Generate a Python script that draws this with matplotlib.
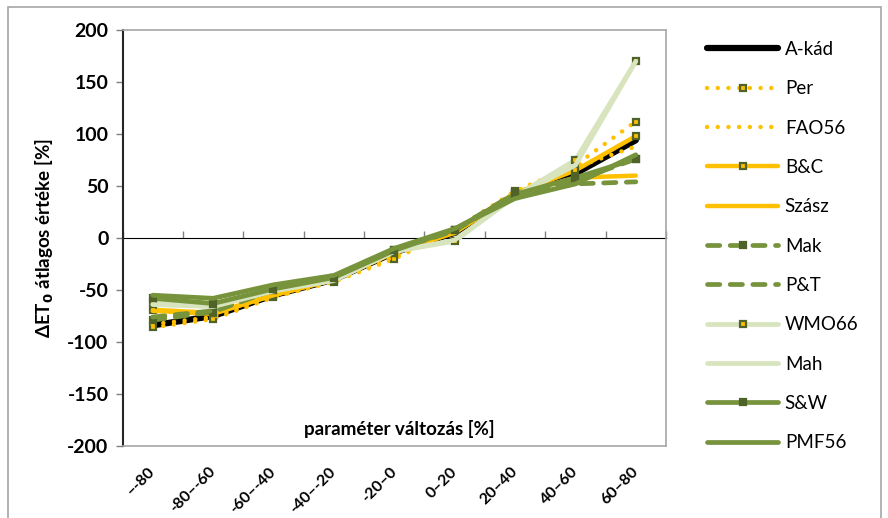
import matplotlib
matplotlib.use('Agg')
import matplotlib.pyplot as plt
from matplotlib.patches import Rectangle
import numpy as np

plt.rcParams['font.family'] = ['Lato', 'DejaVu Sans']
plt.rcParams['axes.unicode_minus'] = False

# parameter change classes (x axis)
kategoriak = ['–-80', '-80–-60', '-60–-40', '-40–-20', '-20–0', '0–20', '20–40', '40–60', '60–80']

# mean ΔET0 [%] for every method
a_kad = [-84, -75, -55, -40, -14, 5, 42, 62, 94]
per = [-86, -78, -57, -42, -20, 8, 45, 70, 112]
fao56 = [-83, -76, -56, -41, -18, 7, 44, 68, 88]
b_c = [-69, -72, -55, -40, -14, 6, 43, 65, 98]
szasz = [-70, -73, -55, -40, -14, 5, 42, 58, 60]
mak = [-79, -71, -50, -38, -12, 8, 43, 55, 76]
p_t = [-76, -70, -50, -38, -12, 7, 42, 52, 54]
wmo66 = [-62, -64, -50, -40, -13, -3, 40, 75, 170]
mah = [-64, -66, -51, -41, -13, -2, 40, 70, 170]
s_w = [-58, -63, -49, -38, -12, 8, 42, 58, 76]
pmf56 = [-55, -58, -45, -36, -10, 9, 38, 52, 80]

arany = '#FFC000'
zold = '#77933C'
vzold = '#D7E4BD'
szold = '#4F6228'

x = np.arange(len(kategoriak))

fig = plt.figure(figsize=(8.88, 5.18), dpi=100)
ax = fig.add_axes([122.5/888, 72/518, (666-122.5)/888, 416/518])

pont = (0, (0.01, 2.4))
szagg = (0, (2.6, 2.2))
jel = dict(marker='s', markersize=5, markeredgecolor=szold, markeredgewidth=1.6)

ax.plot(x, a_kad, color='black', lw=4.5, solid_capstyle='round', label='A-kád')
ax.plot(x, per, color=arany, lw=3.2, linestyle=pont, dash_capstyle='round',
        markerfacecolor=arany, label='Per', **jel)
ax.plot(x, fao56, color=arany, lw=3.2, linestyle=pont, dash_capstyle='round', label='FAO56')
ax.plot(x, b_c, color=arany, lw=3.2, solid_capstyle='round',
        markerfacecolor=arany, label='B&C', **jel)
ax.plot(x, szasz, color=arany, lw=3.2, solid_capstyle='round', label='Szász')
ax.plot(x, mak, color=zold, lw=3.4, linestyle=szagg, dash_capstyle='round',
        markerfacecolor=szold, label='Mak', **jel)
ax.plot(x, p_t, color=zold, lw=3.4, linestyle=szagg, dash_capstyle='round', label='P&T')
ax.plot(x, wmo66, color=vzold, lw=3.4, solid_capstyle='round',
        markerfacecolor=arany, label='WMO66', **jel)
ax.plot(x, mah, color=vzold, lw=3.4, solid_capstyle='round', label='Mah')
ax.plot(x, s_w, color=zold, lw=3.4, solid_capstyle='round',
        markerfacecolor=szold, label='S&W', **jel)
ax.plot(x, pmf56, color=zold, lw=3.4, solid_capstyle='round', label='PMF56')

ax.set_xlim(-0.5, len(kategoriak) - 0.5)
ax.set_ylim(-200, 200)
ax.set_yticks(np.arange(-200, 201, 50))
ax.tick_params(axis='y', direction='out', length=5, color='#808080', width=1,
               labelsize=14, pad=5)
for t in ax.get_yticklabels():
    t.set_fontweight('bold')

ax.set_xticks(x)
ax.set_xticklabels(kategoriak, rotation=45, ha='right', va='center',
                   rotation_mode='anchor', fontsize=11.5, fontweight='bold')
ax.tick_params(axis='x', length=0, pad=17)

for s in ['top', 'right', 'bottom']:
    ax.spines[s].set_color('#A6A6A6')
    ax.spines[s].set_linewidth(1.2)
ax.spines['left'].set_color('#262626')
ax.spines['left'].set_linewidth(1.5)

# category axis crossing at zero
nulla = ax.secondary_xaxis(0.5)
nulla.set_xticks(np.arange(len(kategoriak) + 1) - 0.5)
nulla.set_xticklabels([])
nulla.tick_params(direction='out', length=5, color='#808080', width=1)
nulla.spines['bottom'].set_color('black')
nulla.spines['bottom'].set_linewidth(1.3)

ax.set_ylabel('ΔET$_\\mathbf{0}$ átlagos értéke [%]', fontsize=13.5, fontweight='bold', labelpad=8)
ax.text(0.51, 0.04, 'paraméter változás [%]', transform=ax.transAxes,
        ha='center', va='center', fontsize=13.5, fontweight='bold')

ax.legend(loc='upper left', bbox_to_anchor=(707/888, 1 - 41/518),
          bbox_transform=fig.transFigure, frameon=False, fontsize=13.5,
          handlelength=3.8, handletextpad=0.35, labelspacing=1.19,
          borderpad=0, borderaxespad=0, markerscale=1.0)

fig.patches.append(Rectangle((8/888, -0.1), 873/888, 1.1 - 7/518, transform=fig.transFigure,
                             fill=False, edgecolor='#A6A6A6', lw=1.2))

fig.savefig('out.png', dpi=100)
